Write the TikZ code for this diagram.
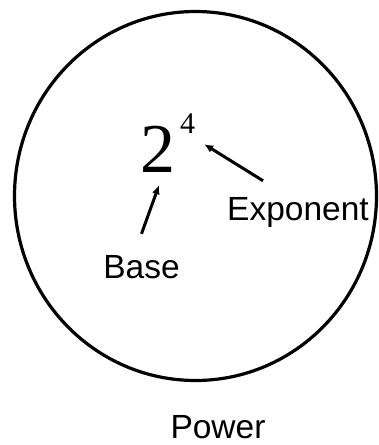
\documentclass[tikz,border=0pt]{standalone}
\usepackage{fontspec}
\setmainfont{Liberation Sans}
\newfontfamily\timesfont{Liberation Serif}
\usetikzlibrary{calc,positioning,arrows.meta}

\begin{document}
\begin{tikzpicture}[x=1pt, y=-1pt,
		label text/.style={inner sep=0pt, anchor=base, font=\fontsize{33.5}{40}\selectfont},
		pointer/.style={line width=3pt, -{Latex[length=9pt, width=8pt]}}]
	
	\useasboundingbox (0,0) rectangle (378,445);
	
	%------------------------------------------------
	% Outer circle
	%------------------------------------------------
	\draw[line width=3.2pt] (195.5,196) ellipse [x radius=181, y radius=184.5];
	
	%------------------------------------------------
	% The power
	%------------------------------------------------
	\node[inner sep=0pt, anchor=base, font=\timesfont\fontsize{70}{70}\selectfont] (two) at (158,172) {2};
	\node[inner sep=0pt, anchor=base, font=\timesfont\fontsize{30}{30}\selectfont] (four) at (187.5,133) {4};
	
	%------------------------------------------------
	% Labels
	%------------------------------------------------
	\node[label text] (base) at (141.5,278) {Base};
	\node[label text] (exponent) at (298,220) {Exponent};
	\node[label text] (power) at (218,438) {Power};
	
	%------------------------------------------------
	% Arrows
	%------------------------------------------------
	\draw[pointer] ([yshift=21pt]base.north) -- ([shift={(1pt,-13pt)}]two.south);
	\draw[pointer] ([shift={(36pt,16pt)}]exponent.north west) -- ([shift={(9pt,-11pt)}]four.south east);
	
\end{tikzpicture}
\end{document}
